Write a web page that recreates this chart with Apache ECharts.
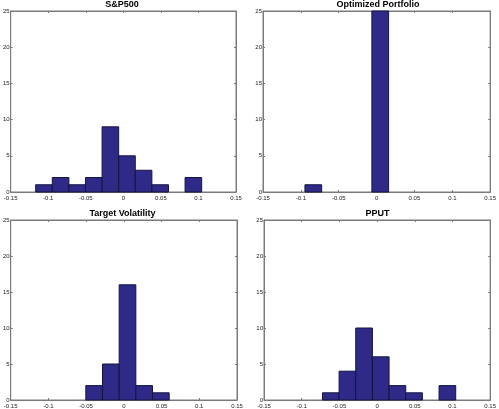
<!DOCTYPE html>
<html>
<head>
<meta charset="utf-8">
<script src="https://cdn.jsdelivr.net/npm/echarts@6/dist/echarts.min.js"></script>
<style>html,body{margin:0;padding:0;background:#fff}#c{width:499px;height:409px}</style>
</head>
<body>
<div id="c"></div>
<script>
// Histogram bin edges (shared by all panels)
var binEdges = [-0.1167, -0.0946, -0.0725, -0.0504, -0.0283, -0.0062, 0.0159, 0.0380, 0.0601, 0.0822, 0.1043];
// Counts per bin
var sp500Counts     = [1, 2, 1, 2, 9, 5, 3, 1, 0, 2];
var optimizedCounts = [0, 1, 0, 0, 0, 25, 0, 0, 0, 0];
var targetVolCounts = [0, 0, 0, 2, 5, 16, 2, 1, 0, 0];
var pputCounts      = [0, 0, 1, 4, 10, 6, 2, 1, 0, 2];
var panelTitles = ['S&P500', 'Optimized Portfolio', 'Target Volatility', 'PPUT'];
var xTickLabels = ['-0.15', '-0.1', '-0.05', '0', '0.05', '0.1', '0.15'];
var yTickLabels = ['0', '5', '10', '15', '20', '25'];
var xMin = -0.15, xMax = 0.15, xStep = 0.05;
var yMin = 0, yMax = 25, yStep = 5;

var allCounts = [sp500Counts, optimizedCounts, targetVolCounts, pputCounts];
var grids = [
  {left: 8, top: 11, width: 228, height: 181},
  {left: 263, top: 11, width: 230, height: 181},
  {left: 8, top: 220, width: 229, height: 181},
  {left: 264, top: 220, width: 227, height: 181}
];
var titleY = [5, 5, 214, 214];

var axisColor = '#7a7a7a';
var barColor = '#2f2a88';
var barEdge = '#16133f';
var labelFont = 'Liberation Sans';

function xFmt(v){ var i = Math.round((v - xMin)/xStep); return xTickLabels[i] !== undefined ? xTickLabels[i] : ''; }
function yFmt(v){ var i = Math.round((v - yMin)/yStep); return yTickLabels[i] !== undefined ? yTickLabels[i] : ''; }

var xAxes = [], yAxes = [], series = [], graphics = [];
grids.forEach(function(g, k){
  g.show = true; g.borderColor = axisColor; g.borderWidth = 1; g.backgroundColor = '#fff';
  xAxes.push({
    gridIndex: k, type: 'value', min: xMin, max: xMax, interval: xStep, position: 'bottom',
    axisLine: {show: true, onZero: false, lineStyle: {color: axisColor}},
    axisTick: {show: true, inside: true, length: 2, lineStyle: {color: axisColor}},
    axisLabel: {show: true, formatter: xFmt, fontSize: 6, color: '#222', margin: 3, fontFamily: labelFont},
    splitLine: {show: false}
  });
  xAxes.push({
    gridIndex: k, type: 'value', min: xMin, max: xMax, interval: xStep, position: 'top',
    axisLine: {show: true, onZero: false, lineStyle: {color: axisColor}},
    axisTick: {show: true, inside: true, length: 2, lineStyle: {color: axisColor}},
    axisLabel: {show: false}, splitLine: {show: false}
  });
  yAxes.push({
    gridIndex: k, type: 'value', min: yMin, max: yMax, interval: yStep, position: 'left',
    axisLine: {show: true, onZero: false, lineStyle: {color: axisColor}},
    axisTick: {show: true, inside: true, length: 2, lineStyle: {color: axisColor}},
    axisLabel: {show: true, formatter: yFmt, fontSize: 6, color: '#222', margin: 1, fontFamily: labelFont},
    splitLine: {show: false}
  });
  yAxes.push({
    gridIndex: k, type: 'value', min: yMin, max: yMax, interval: yStep, position: 'right',
    axisLine: {show: true, onZero: false, lineStyle: {color: axisColor}},
    axisTick: {show: true, inside: true, length: 2, lineStyle: {color: axisColor}},
    axisLabel: {show: false}, splitLine: {show: false}
  });
  var data = [];
  allCounts[k].forEach(function(c, i){
    if (c > 0) data.push([binEdges[i], binEdges[i+1], c]);
  });
  series.push({
    type: 'custom', xAxisIndex: 2*k, yAxisIndex: 2*k, data: data,
    renderItem: function(params, api){
      var p0 = api.coord([api.value(0), api.value(2)]);
      var p1 = api.coord([api.value(1), 0]);
      return {
        type: 'rect',
        shape: {x: p0[0], y: p0[1], width: p1[0] - p0[0], height: p1[1] - p0[1]},
        style: {fill: barColor, stroke: barEdge, lineWidth: 1}
      };
    },
    encode: {x: [0, 1], y: 2},
    silent: true
  });
  graphics.push({
    type: 'text', x: g.left + g.width/2, y: titleY[k],
    style: {text: panelTitles[k], fill: '#000', font: 'bold 9px "Liberation Sans"', textAlign: 'center', textVerticalAlign: 'middle'}
  });
});

var chart = echarts.init(document.getElementById('c'), null, {renderer: 'canvas'});
chart.setOption({
  animation: false,
  backgroundColor: '#fff',
  grid: grids,
  xAxis: xAxes,
  yAxis: yAxes,
  series: series,
  graphic: graphics
});
</script>
</body>
</html>
